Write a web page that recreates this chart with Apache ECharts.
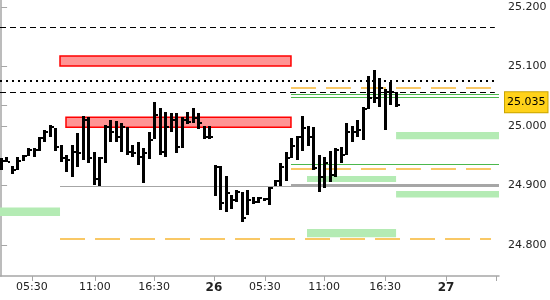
<!DOCTYPE html>
<html><head><meta charset="utf-8">
<script src="https://cdn.jsdelivr.net/npm/echarts@6/dist/echarts.min.js"></script>
<style>html,body{margin:0;padding:0;background:#fff}#c{width:550px;height:300px}</style>
</head><body><div id="c"></div>
<script>
// OHLC-style bars (high, low, close), one per period
const barHigh = [24.946,24.948,24.933,24.948,24.951,24.963,24.963,24.982,24.993,25.002,
  24.997,24.968,24.951,24.968,24.988,25.017,25.015,24.956,24.948,25.002,
  25.010,25.008,25.005,24.998,24.968,24.973,24.963,24.990,25.040,25.030,
  25.024,25.022,25.022,25.015,25.024,25.030,25.022,25.000,25.000,24.934,
  24.933,24.916,24.884,24.892,24.889,24.892,24.881,24.881,24.879,24.897,
  24.909,24.938,24.956,24.980,24.983,25.017,25.000,24.998,24.951,24.948,
  24.958,24.963,24.965,25.005,25.000,25.010,25.032,25.084,25.094,25.081,
  25.062,25.074,25.057];
const barLow = [24.926,24.940,24.919,24.926,24.941,24.950,24.948,24.958,24.973,24.982,
  24.958,24.940,24.923,24.914,24.931,24.943,24.938,24.901,24.899,24.938,
  24.973,24.973,24.956,24.951,24.948,24.934,24.904,24.945,24.978,24.951,
  24.948,24.990,24.955,24.963,25.003,25.005,24.995,24.978,24.978,24.882,
  24.859,24.855,24.861,24.872,24.839,24.850,24.869,24.871,24.874,24.867,
  24.899,24.899,24.908,24.946,24.943,24.958,24.966,24.926,24.889,24.896,
  24.906,24.914,24.938,24.951,24.973,24.982,24.976,25.029,25.039,25.032,
  24.993,25.035,25.032];
const barClose = [24.941,24.940,24.926,24.941,24.950,24.960,24.960,24.980,24.990,24.998,
  24.965,24.946,24.943,24.956,24.955,25.010,24.946,24.911,24.946,24.998,
  24.990,24.982,24.998,24.956,24.955,24.948,24.955,24.977,25.018,24.956,
  24.998,25.010,24.965,25.010,25.007,25.013,25.005,24.982,24.982,24.931,
  24.871,24.887,24.876,24.889,24.845,24.876,24.872,24.879,24.877,24.896,
  24.908,24.931,24.946,24.966,24.982,24.997,24.982,24.929,24.914,24.938,
  24.918,24.960,24.951,24.990,24.990,24.993,25.029,25.047,25.047,25.064,
  25.057,25.057,25.035];

const xTickPos = [5.6, 17.1, 27.9, 38.8, 48.1, 58.9, 70.0, 81.1, 90.2];
const xTickLabels = ['05:30','11:00','16:30','26','05:30','11:00','16:30','27',''];
const xBold = ['26','27'];
const yTickValues = [24.8, 24.9, 25.0, 25.1, 25.2];
const lastPrice = 25.035;

// horizontal levels: [fromIndex, toIndex, value]
const blackDashed = [[-0.2, 90.0, 25.166], [-0.2, 90.0, 25.057]];
const blackDotted = [[-0.2, 90.0, 25.077]];
const orangeDashed = [[10.74, 89.3, 24.811], [52.84, 89.3, 24.929], [52.84, 89.3, 25.065]];
const greenLevels = [[52.84, 90.76, 25.054], [52.84, 90.76, 25.048], [52.84, 90.76, 24.936]];
const grayThin = [[10.74, 90.76, 24.899]];
const grayThick = [[52.84, 90.76, 24.901]];
// zones: [fromIndex, toIndex, top, bottom]
const redZones = [[10.74, 52.84, 25.118, 25.101], [11.83, 52.84, 25.015, 24.998]];
const greenZones = [[-0.2, 10.74, 24.863, 24.849], [55.76, 72, 24.916, 24.906],
  [72, 90.76, 24.891, 24.880], [55.76, 72, 24.827, 24.813], [72, 90.76, 24.990, 24.978]];

const X_MIN = -0.2, X_MAX = 90.76, Y_MIN = 24.748, Y_MAX = 25.212;
const FONT = 'DejaVu Sans';

function lines(arr){ return arr.map(l => [{coord:[l[0], l[2]]},{coord:[l[1], l[2]]}]); }
function zones(arr){ return arr.map(z => [{coord:[z[0], z[2]]},{coord:[z[1], z[3]]}]); }
function levelSeries(name, arr, style, z){
  return {name, type:'line', data:[], z, silent:true,
    markLine:{symbol:'none', silent:true, animation:false, label:{show:false},
      emphasis:{disabled:true}, lineStyle:style, data:lines(arr)}};
}

const chart = echarts.init(document.getElementById('c'), null, {renderer:'canvas'});
chart.setOption({
  animation:false,
  grid:{left:0, right:51, top:0, bottom:24, containLabel:false},
  xAxis:{type:'value', min:X_MIN, max:X_MAX, splitLine:{show:false},
    axisLine:{show:true, onZero:false, lineStyle:{color:'#a6a6a6', width:1.5}},
    axisTick:{show:true, length:5, customValues:xTickPos, lineStyle:{color:'#a6a6a6'}},
    axisLabel:{customValues:xTickPos, margin:6, color:'#222', fontSize:11, fontFamily:FONT,
      formatter:function(v){
        let k=0, d=1e9;
        xTickPos.forEach((p,i)=>{ if(Math.abs(p-v)<d){d=Math.abs(p-v);k=i;} });
        const t = xTickLabels[k];
        return xBold.indexOf(t)>=0 ? '{b|'+t+'}' : t;
      },
      rich:{b:{fontWeight:'bold', fontSize:12, color:'#222', fontFamily:FONT}}}},
  yAxis:{type:'value', position:'right', min:Y_MIN, max:Y_MAX, scale:true, splitLine:{show:false},
    axisLine:{show:true, lineStyle:{color:'#a6a6a6', width:1.5}},
    axisTick:{show:true, length:6, customValues:yTickValues.concat([lastPrice]), lineStyle:{color:'#a6a6a6'}},
    axisLabel:{customValues:yTickValues, margin:9, color:'#222', fontSize:11, fontFamily:FONT,
      formatter:v=>v.toFixed(3)}},
  series:[
    {name:'zones', type:'line', data:[], z:1, silent:true,
      markArea:{silent:true, itemStyle:{color:'#b4ebb4'}, label:{show:false}, data:zones(greenZones)}},
    {name:'redZones', type:'line', data:[], z:1, silent:true,
      markArea:{silent:true, itemStyle:{color:'#ff9494', borderColor:'#ff0000', borderWidth:1.5}, label:{show:false}, data:zones(redZones)}},
    levelSeries('dashed', blackDashed, {color:'#000', width:1, type:[6,4]}, 2),
    levelSeries('dotted', blackDotted, {color:'#000', width:2, type:[2,4]}, 2),
    levelSeries('orange', orangeDashed, {color:'#f7b733', width:1.5, type:[25,10]}, 2),
    levelSeries('green', greenLevels, {color:'#4cb84c', width:1, type:'solid'}, 2),
    levelSeries('grayThin', grayThin, {color:'#a6a6a6', width:1, type:'solid'}, 2),
    levelSeries('grayThick', grayThick, {color:'#a6a6a6', width:2, type:'solid'}, 2),
    {name:'bars', type:'custom', z:5,
      data: barHigh.map((h,i)=>[i, h, barLow[i], barClose[i]]),
      renderItem:function(params, api){
        const x = api.value(0);
        const top = api.coord([x, api.value(1)]);
        const bot = api.coord([x, api.value(2)]);
        const cl = api.coord([x, api.value(3)]);
        const x0 = Math.round(top[0] - 1.5);
        const y0 = Math.round(top[1]);
        const y1 = Math.max(Math.round(bot[1]), y0 + 2);
        const yc = Math.round(cl[1] - 1);
        return {type:'group', children:[
          {type:'rect', shape:{x:x0, y:y0, width:3, height:y1 - y0}, style:{fill:'#000'}},
          {type:'rect', shape:{x:x0 + 3, y:yc, width:2, height:2}, style:{fill:'#000'}}
        ]};
      }},
    {name:'last', type:'line', data:[], z:6, silent:true,
      markLine:{symbol:'none', silent:true, animation:false,
        lineStyle:{color:'transparent', width:0},
        data:[{yAxis:lastPrice}],
        label:{show:true, position:'end', distance:6, formatter:lastPrice.toFixed(3),
          color:'#000', fontSize:11, fontFamily:FONT, lineHeight:13,
          backgroundColor:'#ffd21a', borderColor:'#c9a400', borderWidth:1, padding:[4,2,3,2]}}}
  ]
});
</script></body></html>
